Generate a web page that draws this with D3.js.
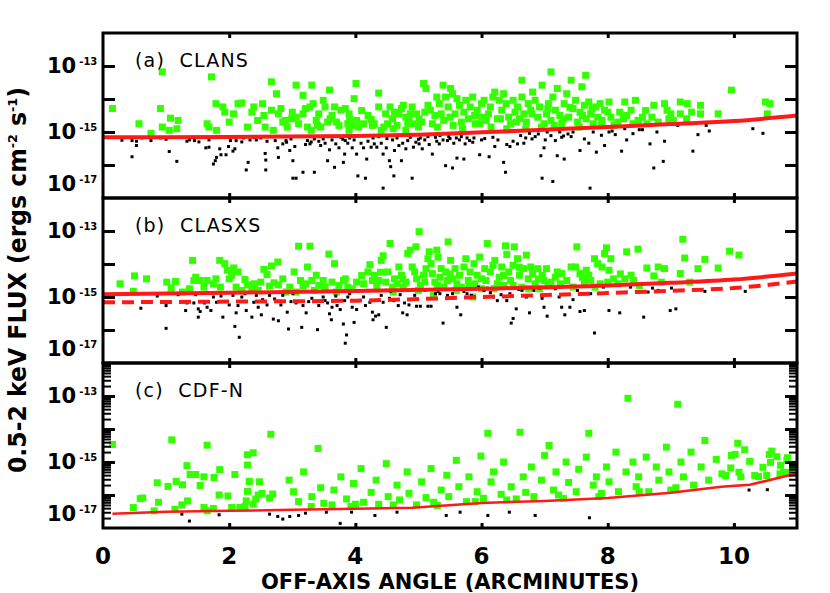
<!DOCTYPE html>
<html>
<head>
<meta charset="utf-8">
<script src="https://cdn.jsdelivr.net/npm/d3@7"></script>
<style>
  body { margin: 0; background: #fff; }
  text { font-family: "DejaVu Sans", sans-serif; fill: #000; }
</style>
</head>
<body>
<div id="chart"></div>
<script>
// [off-axis angle (arcmin), log10 0.5-2 keV flux (erg cm^-2 s^-1)]

// (a) CLANS
var clansDet = [
  [0.15,-14.29],[0.57,-14.75],[0.76,-15.04],[0.91,-14.29],[0.94,-13.18],[0.94,-14.85],[1.05,-14.95],[1.07,-14.58],
  [1.19,-14.65],[1.17,-14.90],[1.65,-14.75],[1.68,-14.85],[1.72,-13.33],[1.79,-14.14],[1.80,-14.95],[1.90,-14.24],
  [1.93,-14.40],[2.00,-14.70],[2.07,-14.45],[2.14,-14.14],[2.20,-14.12],[2.29,-14.85],[2.36,-14.40],[2.39,-14.24],
  [2.53,-14.14],[2.55,-14.50],[2.57,-14.85],[2.67,-13.48],[2.67,-14.34],[2.75,-13.84],[2.78,-14.45],[2.82,-14.29],
  [2.85,-14.70],[2.89,-14.65],[2.92,-14.85],[2.99,-14.60],[3.06,-13.58],[3.06,-14.55],[3.10,-14.75],[3.17,-13.89],
  [3.17,-14.45],[3.21,-14.29],[3.24,-14.85],[3.28,-14.24],[3.31,-13.58],[3.33,-14.14],[3.38,-14.65],[3.42,-14.45],
  [3.45,-14.85],[3.49,-14.04],[3.52,-14.24],[3.56,-14.70],[3.59,-13.73],[3.63,-14.50],[3.67,-14.24],[3.70,-14.70],
  [3.74,-14.80],[3.77,-14.34],[3.84,-14.29],[3.88,-14.75],[3.91,-14.60],[3.95,-14.80],[3.98,-13.99],[4.01,-13.53],
  [4.02,-14.65],[4.05,-14.85],[4.13,-14.75],[4.20,-14.50],[4.27,-14.80],[4.30,-14.75],[4.37,-13.82],[4.37,-14.24],
  [4.41,-14.95],[4.48,-14.45],[4.51,-14.75],[4.55,-14.24],[4.59,-14.60],[4.62,-14.40],[4.66,-14.80],[4.69,-14.45],
  [4.73,-14.29],[4.76,-14.19],[4.80,-14.55],[4.83,-14.75],[4.87,-14.45],[4.90,-14.24],[4.94,-14.75],[4.97,-14.45],
  [5.01,-14.60],[5.05,-14.70],[5.08,-13.53],[5.12,-13.68],[5.15,-14.19],[5.19,-14.34],[5.22,-14.75],[5.26,-14.50],
  [5.29,-13.94],[5.33,-14.14],[5.36,-14.45],[5.39,-13.58],[5.40,-14.65],[5.43,-13.94],[5.47,-14.24],[5.51,-13.68],
  [5.54,-13.84],[5.58,-14.45],[5.61,-13.99],[5.65,-14.19],[5.68,-14.70],[5.72,-14.40],[5.75,-14.04],[5.79,-14.60],
  [5.82,-14.24],[5.86,-13.94],[5.89,-14.50],[5.93,-14.34],[5.97,-14.75],[6.00,-14.14],[6.04,-14.04],[6.07,-14.65],
  [6.11,-14.45],[6.14,-14.24],[6.18,-13.94],[6.21,-13.79],[6.25,-14.60],[6.28,-14.04],[6.32,-14.34],[6.35,-13.84],
  [6.39,-14.14],[6.43,-14.55],[6.46,-14.75],[6.50,-14.04],[6.53,-14.40],[6.57,-14.24],[6.60,-14.60],[6.64,-13.43],
  [6.64,-13.94],[6.67,-14.45],[6.71,-14.70],[6.74,-14.14],[6.78,-14.34],[6.81,-13.79],[6.85,-14.04],[6.89,-14.55],
  [6.92,-14.24],[6.96,-13.58],[6.99,-14.75],[7.03,-14.45],[7.06,-14.14],[7.10,-13.18],[7.10,-14.65],[7.13,-13.94],
  [7.17,-14.34],[7.20,-13.68],[7.24,-14.50],[7.27,-14.75],[7.31,-14.14],[7.35,-13.84],[7.38,-14.55],[7.42,-13.43],
  [7.45,-14.29],[7.49,-14.04],[7.52,-14.70],[7.56,-14.40],[7.59,-13.63],[7.63,-14.19],[7.65,-13.28],[7.66,-14.60],
  [7.70,-14.09],[7.73,-14.45],[7.77,-14.75],[7.81,-14.24],[7.84,-14.55],[7.88,-14.14],[7.91,-14.65],[7.95,-14.34],
  [8.02,-14.09],[8.05,-14.55],[8.16,-14.70],[8.19,-14.40],[8.27,-14.09],[8.30,-14.50],[8.37,-14.34],[8.44,-14.04],
  [8.48,-14.65],[8.55,-14.55],[8.62,-14.75],[8.73,-14.19],[8.80,-14.70],[8.90,-14.14],[8.94,-14.34],[8.97,-14.60],
  [9.04,-14.65],[9.15,-14.45],[9.15,-14.09],[9.26,-14.14],[9.33,-14.40],[9.47,-14.19],[9.47,-14.45],[9.75,-14.45],
  [9.96,-13.73],[10.50,-14.09],[10.57,-14.14],[10.53,-14.45],
  [3.00,-14.40],[3.40,-14.80],[3.60,-14.60],[3.90,-14.45],[4.10,-14.35],[4.25,-14.62],[4.45,-14.85],[4.60,-14.90],
  [4.85,-14.62],[5.00,-14.85],[5.10,-14.40],[5.30,-14.85],[5.50,-14.55],[5.55,-14.80],[5.70,-14.90],[5.90,-14.75],
  [6.00,-14.55],[6.15,-14.85],[6.30,-14.60],[6.40,-14.90],[6.55,-14.70],[6.70,-14.90],[6.80,-14.45],[6.95,-14.85],
  [7.05,-14.30],[7.15,-14.80],[7.30,-14.60],[7.40,-14.25],[7.55,-14.85],[7.60,-14.50],[7.75,-14.30],[7.90,-14.80],
  [8.00,-14.40],[8.10,-14.80],[8.25,-14.60],[8.40,-14.75],[8.60,-14.35],[8.70,-14.55],[9.00,-14.45],[9.25,-14.60],
  [2.45,-14.65],[2.70,-14.95],[3.30,-14.95],[3.90,-14.95],[4.80,-14.95]
];
var clansUndet = [
  [0.46,-15.26],[0.53,-15.28],[0.46,-15.75],[0.53,-15.41],[0.62,-15.18],[0.76,-15.26],[0.91,-15.18],[1.05,-15.59],
  [1.17,-15.89],[1.33,-15.28],[1.37,-15.24],[1.52,-15.30],[1.63,-15.48],[1.68,-15.24],[1.68,-15.46],[1.75,-15.97],
  [1.78,-15.87],[1.80,-15.77],[1.85,-15.51],[1.87,-15.69],[1.95,-15.69],[1.99,-15.44],[2.02,-15.26],[2.06,-15.58],
  [2.09,-15.51],[2.11,-15.26],[2.23,-15.18],[2.27,-16.15],[2.30,-15.92],[2.33,-15.24],[2.39,-15.16],[2.43,-15.24],
  [2.50,-15.18],[2.57,-15.65],[2.58,-15.85],[2.58,-16.15],[2.60,-15.28],[2.73,-15.26],[2.77,-15.48],[2.78,-15.77],
  [2.85,-15.36],[2.91,-15.31],[2.96,-15.56],[2.98,-15.21],[3.01,-16.40],[3.01,-15.87],[3.06,-16.40],[3.04,-15.44],
  [3.17,-16.22],[3.21,-15.38],[3.24,-15.26],[3.28,-15.36],[3.35,-15.21],[3.35,-16.22],[3.42,-15.28],[3.45,-15.41],
  [3.49,-15.21],[3.52,-15.34],[3.56,-15.87],[3.59,-15.54],[3.63,-15.24],[3.67,-16.07],[3.69,-15.36],[3.74,-15.48],
  [3.77,-15.16],[3.81,-15.92],[3.83,-15.67],[3.84,-15.26],[3.88,-15.34],[3.91,-15.18],[3.95,-15.48],[3.98,-15.24],
  [4.02,-15.67],[4.04,-16.33],[4.09,-15.34],[4.13,-15.48],[4.16,-16.40],[4.18,-15.82],[4.20,-15.28],[4.25,-15.46],
  [4.28,-15.18],[4.30,-15.36],[4.34,-15.46],[4.37,-15.14],[4.41,-15.34],[4.44,-15.67],[4.44,-16.70],[4.49,-15.48],
  [4.54,-15.87],[4.56,-16.05],[4.59,-15.24],[4.61,-16.33],[4.62,-15.56],[4.66,-15.18],[4.69,-15.41],[4.73,-15.87],
  [4.75,-15.34],[4.80,-15.51],[4.83,-15.26],[4.87,-15.16],[4.90,-16.40],[4.92,-15.46],[4.96,-15.31],[5.01,-15.36],
  [5.03,-15.18],[5.06,-15.51],[5.10,-15.24],[5.15,-15.14],[5.17,-15.38],[5.22,-15.67],[5.27,-15.16],[5.29,-15.28],
  [5.33,-15.36],[5.34,-15.11],[5.39,-15.24],[5.43,-16.02],[5.46,-15.26],[5.48,-15.14],[5.54,-16.09],[5.56,-15.34],
  [5.60,-15.18],[5.61,-15.79],[5.65,-15.24],[5.68,-15.14],[5.72,-15.82],[5.74,-15.36],[5.77,-15.18],[5.81,-15.26],
  [5.86,-15.31],[5.88,-15.18],[5.97,-15.69],[6.00,-15.24],[6.12,-15.75],[6.18,-15.16],[6.21,-15.44],[6.26,-15.24],
  [6.35,-15.92],[6.38,-16.22],[6.40,-15.38],[6.45,-15.44],[6.50,-15.28],[6.57,-15.36],[6.62,-15.11],[6.67,-15.34],
  [6.76,-15.04],[6.80,-15.21],[6.85,-15.14],[6.90,-15.06],[6.94,-15.72],[6.96,-16.40],[6.99,-15.48],[7.01,-15.24],
  [7.04,-15.00],[7.10,-15.11],[7.13,-16.50],[7.17,-15.26],[7.20,-15.72],[7.24,-15.00],[7.27,-15.16],[7.31,-15.82],
  [7.37,-15.06],[7.42,-15.14],[7.45,-15.00],[7.56,-15.56],[7.63,-15.21],[7.70,-15.34],[7.72,-16.70],[7.77,-15.00],
  [7.82,-15.61],[7.95,-15.41],[8.02,-15.00],[8.07,-14.97],[8.12,-15.08],[8.22,-15.58],[8.27,-14.90],[8.30,-15.24],
  [8.50,-14.93],[8.55,-14.93],[8.67,-15.36],[8.73,-16.09],[8.78,-15.00],[8.88,-15.89],[8.90,-15.28],[9.11,-14.80],
  [9.35,-15.58],[9.43,-15.08],[9.56,-14.80],[9.61,-14.97],[10.30,-14.90],[10.46,-15.04],
  [0.30,-15.25],[1.00,-15.22],[1.45,-15.26],[2.20,-15.30],[2.90,-15.26],[3.30,-15.30],[3.80,-15.22],[4.50,-15.20],
  [5.00,-15.22],[5.50,-15.20],[6.05,-15.20],[6.70,-15.18],[7.30,-15.12],[7.90,-15.10],[8.40,-15.05]
];
var clansSens = [[0,-15.16],[2,-15.15],[4,-15.12],[5,-15.08],[6,-15.01],[7,-14.93],[8,-14.85],[9,-14.76],[10,-14.67],[11,-14.50]];

// (b) CLASXS
var clasxsDet = [
  [0.27,-14.60],[0.50,-14.36],[0.69,-14.45],[0.48,-14.83],[1.01,-14.55],[1.08,-14.73],[1.15,-14.53],[1.26,-14.85],
  [1.37,-14.75],[1.42,-13.89],[1.44,-14.50],[1.47,-14.40],[1.54,-14.50],[1.65,-14.50],[1.75,-14.60],[1.79,-14.45],
  [1.85,-13.89],[1.86,-14.70],[1.93,-13.99],[1.97,-14.19],[2.00,-14.45],[2.04,-14.34],[2.07,-14.12],[2.11,-14.70],
  [2.14,-14.24],[2.20,-14.80],[2.25,-14.47],[2.29,-14.63],[2.36,-14.75],[2.46,-14.80],[2.50,-14.55],[2.55,-14.16],
  [2.60,-14.32],[2.64,-14.67],[2.67,-14.06],[2.71,-14.57],[2.77,-13.94],[2.78,-14.63],[2.85,-14.45],[2.96,-14.70],
  [3.03,-14.24],[3.06,-14.85],[3.10,-13.46],[3.13,-14.50],[3.17,-14.67],[3.21,-14.60],[3.24,-14.09],[3.28,-13.46],
  [3.31,-14.50],[3.38,-14.34],[3.42,-14.65],[3.49,-14.50],[3.52,-14.70],[3.58,-13.70],[3.63,-14.55],[3.67,-13.99],
  [3.74,-14.65],[3.81,-14.50],[3.84,-14.45],[3.88,-14.70],[3.95,-14.75],[4.02,-14.55],[4.13,-14.60],[4.20,-14.24],
  [4.23,-14.02],[4.27,-14.50],[4.30,-14.34],[4.34,-14.70],[4.37,-14.50],[4.41,-13.89],[4.44,-13.75],[4.48,-14.55],
  [4.51,-14.24],[4.55,-13.38],[4.59,-14.70],[4.62,-14.45],[4.66,-14.60],[4.69,-14.09],[4.73,-14.34],[4.76,-14.70],
  [4.80,-14.55],[4.83,-13.68],[4.87,-13.58],[4.90,-14.09],[4.94,-14.24],[4.96,-13.48],[4.97,-14.45],[5.01,-13.02],
  [5.03,-14.65],[5.08,-14.34],[5.12,-14.14],[5.15,-13.84],[5.17,-13.63],[5.20,-13.99],[5.22,-14.29],[5.24,-14.95],
  [5.26,-14.55],[5.29,-13.58],[5.31,-13.79],[5.34,-14.40],[5.36,-14.14],[5.40,-14.70],[5.43,-14.24],[5.46,-14.50],
  [5.47,-13.33],[5.51,-13.89],[5.54,-14.45],[5.58,-14.14],[5.61,-14.60],[5.65,-14.34],[5.68,-14.70],[5.72,-14.09],
  [5.75,-13.84],[5.79,-14.50],[5.82,-14.24],[5.86,-15.00],[5.88,-13.99],[5.89,-14.60],[5.93,-14.34],[5.97,-13.79],
  [6.00,-14.75],[6.05,-14.14],[6.07,-14.50],[6.09,-13.38],[6.14,-14.24],[6.18,-14.04],[6.21,-13.89],[6.25,-14.60],
  [6.28,-14.40],[6.32,-14.09],[6.35,-14.65],[6.38,-13.45],[6.40,-13.71],[6.43,-14.24],[6.46,-14.50],[6.50,-14.04],
  [6.52,-13.48],[6.57,-13.84],[6.60,-14.34],[6.64,-14.70],[6.67,-14.14],[6.71,-13.73],[6.74,-14.45],[6.78,-14.09],
  [6.81,-14.29],[6.85,-14.60],[6.89,-14.14],[6.92,-14.75],[6.96,-14.34],[6.99,-14.50],[7.03,-14.14],[7.10,-14.55],
  [7.17,-14.40],[7.20,-14.24],[7.27,-14.29],[7.35,-14.50],[7.42,-14.09],[7.49,-14.09],[7.51,-13.48],[7.56,-14.29],
  [7.63,-14.55],[7.66,-14.19],[7.70,-14.34],[7.73,-14.50],[7.79,-13.84],[7.84,-13.99],[7.88,-14.60],[7.91,-14.09],
  [7.95,-13.68],[7.98,-13.51],[8.02,-14.19],[8.05,-13.84],[8.09,-14.45],[8.16,-14.60],[8.27,-14.45],[8.30,-13.63],
  [8.37,-14.34],[8.41,-14.50],[8.48,-13.55],[8.62,-14.12],[8.73,-14.36],[8.80,-14.09],[8.90,-14.14],[9.15,-14.29],
  [9.19,-13.25],[9.22,-13.82],[9.43,-14.14],[9.54,-13.86],[9.75,-14.12],[9.93,-13.61],[10.08,-13.73],
  [2.90,-14.85],[3.35,-14.80],[3.70,-14.85],[4.10,-14.35],[4.40,-14.25],[4.60,-14.85],[4.75,-14.45],[5.00,-14.80],
  [5.10,-14.55],[5.30,-14.65],[5.50,-14.30],[5.60,-14.80],[5.80,-14.70],[6.00,-14.45],[6.20,-14.75],[6.35,-14.35],
  [6.50,-14.65],[6.60,-14.10],[6.75,-14.75],[6.90,-14.45],[7.05,-14.65],[7.25,-14.60],[7.45,-14.70],[7.60,-14.40],
  [7.80,-14.70],[8.00,-14.55],[8.20,-14.30],[8.50,-14.65],[8.85,-14.55],[9.30,-14.55],[1.60,-14.70],[2.40,-14.60]
];
var clasxsUndet = [
  [0.60,-15.34],[0.86,-14.97],[1.00,-15.26],[1.00,-15.95],[1.19,-14.93],[1.31,-15.41],[1.33,-15.18],[1.44,-15.18],
  [1.47,-14.93],[1.51,-15.36],[1.51,-15.61],[1.54,-15.44],[1.61,-15.18],[1.65,-15.31],[1.71,-15.41],[1.75,-15.00],
  [1.80,-15.16],[1.87,-14.97],[1.90,-15.61],[2.00,-15.24],[2.06,-14.95],[2.09,-15.89],[2.11,-15.48],[2.14,-15.26],
  [2.16,-16.22],[2.20,-15.00],[2.25,-14.90],[2.27,-15.41],[2.36,-15.61],[2.39,-15.16],[2.43,-14.95],[2.46,-15.31],
  [2.51,-15.54],[2.53,-15.08],[2.60,-15.24],[2.64,-14.95],[2.70,-15.67],[2.72,-15.06],[2.78,-15.72],[2.82,-15.24],
  [2.85,-14.95],[2.92,-15.46],[2.94,-15.97],[2.98,-15.14],[3.01,-14.90],[3.06,-15.18],[3.15,-15.92],[3.17,-15.26],
  [3.22,-15.48],[3.26,-15.14],[3.31,-15.04],[3.40,-15.99],[3.42,-15.26],[3.49,-15.00],[3.52,-15.11],[3.56,-15.18],
  [3.59,-15.51],[3.62,-15.69],[3.63,-15.31],[3.69,-14.97],[3.71,-15.26],[3.76,-15.38],[3.81,-15.82],[3.83,-15.11],
  [3.84,-16.40],[3.86,-16.15],[3.88,-15.00],[3.91,-14.90],[3.95,-15.31],[3.98,-15.77],[4.02,-15.38],[4.05,-15.11],
  [4.13,-15.00],[4.16,-15.26],[4.18,-14.80],[4.23,-15.16],[4.27,-15.46],[4.28,-15.69],[4.32,-15.58],[4.37,-15.54],
  [4.41,-14.95],[4.44,-15.16],[4.48,-14.80],[4.49,-15.92],[4.54,-15.04],[4.56,-14.83],[4.61,-15.11],[4.64,-14.80],
  [4.68,-15.26],[4.71,-14.93],[4.75,-15.48],[4.78,-15.18],[4.82,-15.54],[4.85,-15.24],[4.89,-15.08],[4.94,-14.95],
  [4.97,-15.28],[5.03,-15.28],[5.10,-14.80],[5.15,-15.28],[5.20,-15.28],[5.27,-14.90],[5.31,-14.83],[5.34,-14.90],
  [5.39,-15.79],[5.46,-14.95],[5.54,-14.90],[5.61,-15.31],[5.67,-15.54],[5.72,-14.83],[5.77,-14.90],[5.84,-14.95],
  [5.89,-15.00],[5.95,-14.70],[6.04,-14.80],[6.09,-14.73],[6.14,-14.87],[6.19,-15.00],[6.25,-15.11],[6.31,-14.93],
  [6.40,-15.11],[6.45,-14.90],[6.47,-15.79],[6.50,-15.65],[6.55,-15.36],[6.59,-14.77],[6.64,-14.80],[6.71,-15.00],
  [6.76,-15.48],[6.83,-14.80],[6.92,-14.73],[6.96,-15.04],[6.99,-15.31],[7.04,-15.58],[7.10,-14.70],[7.17,-14.75],
  [7.23,-15.00],[7.27,-15.31],[7.32,-15.54],[7.40,-15.31],[7.45,-15.08],[7.52,-14.80],[7.56,-15.44],[7.63,-15.41],
  [7.73,-14.90],[7.79,-16.09],[7.93,-14.70],[8.02,-15.41],[8.19,-15.48],[8.36,-14.70],[8.57,-15.61],[8.64,-14.85],
  [8.71,-14.73],[8.80,-14.80],[8.99,-15.41],[9.01,-14.73],[9.08,-15.36],[9.47,-14.53],[9.54,-14.83],[10.18,-14.83],
  [10.30,-14.43]
];
var clasxsSens = [[0,-14.92],[2,-14.87],[4,-14.82],[6,-14.75],[8,-14.65],[9,-14.57],[10,-14.47],[11,-14.29]];
var clasxsSensDash = [[0,-15.16],[2,-15.14],[4,-15.11],[6,-15.00],[8,-14.88],[9,-14.81],[10,-14.73],[11,-14.53]];

// (c) CDF-N
var cdfnDet = [
  [0.15,-14.47],[1.09,-14.33],[1.65,-14.49],[2.66,-14.16],[1.33,-15.11],[2.29,-14.78],[2.38,-14.72],[2.29,-15.09],
  [1.38,-15.38],[1.47,-15.38],[1.60,-15.45],[1.85,-15.23],[1.76,-15.47],[1.54,-15.71],[2.09,-15.38],[1.16,-15.59],
  [1.26,-15.69],[0.86,-15.63],[1.03,-15.74],[2.32,-15.59],[2.48,-15.60],[1.84,-16.00],[1.98,-16.03],[2.29,-15.89],
  [2.46,-16.00],[2.52,-15.95],[2.42,-16.12],[2.69,-15.97],[2.64,-16.09],[0.59,-16.11],[0.63,-16.09],[0.88,-16.22],
  [1.34,-16.18],[1.25,-16.30],[0.48,-16.38],[0.81,-16.48],[1.14,-16.43],[1.60,-16.38],[1.65,-16.48],[1.75,-16.41],
  [2.17,-16.38],[2.25,-16.35],[2.38,-16.28],[2.27,-16.18],[2.04,-16.38],
  [2.95,-15.55],[3.02,-15.90],[3.10,-16.20],[3.18,-15.30],[3.31,-16.05],[3.41,-14.59],[3.45,-15.78],[3.50,-16.25],
  [3.63,-16.30],[3.66,-15.85],[3.77,-15.45],[3.86,-16.12],[3.93,-16.35],[3.97,-15.65],[4.09,-15.20],[4.13,-16.22],
  [4.25,-15.92],[4.33,-15.55],[4.37,-16.28],[4.49,-15.05],[4.52,-16.05],[4.66,-15.70],[4.70,-16.15],[4.82,-15.30],
  [4.85,-15.95],[4.97,-16.30],[5.05,-15.60],[5.12,-16.08],[5.20,-15.20],[5.24,-16.22],[5.36,-15.85],[5.45,-15.40],
  [5.48,-16.05],[5.60,-14.95],[5.64,-15.75],[5.76,-16.20],[5.80,-15.45],[5.93,-15.90],[5.99,-14.82],[6.03,-16.10],
  [6.10,-14.13],[6.15,-15.60],[6.19,-15.30],[6.31,-15.98],[6.35,-15.00],[6.47,-15.75],[6.55,-16.12],[6.61,-14.10],
  [6.66,-15.45],[6.70,-15.92],[6.79,-15.15],[6.83,-16.05],[6.95,-15.55],[7.00,-14.80],[7.07,-14.50],[7.14,-15.85],
  [7.18,-15.30],[7.22,-16.00],[7.34,-15.00],[7.38,-15.62],[7.50,-15.90],[7.54,-15.22],[7.66,-14.85],[7.70,-14.13],
  [7.77,-15.70],[7.82,-15.45],[7.86,-16.05],[7.98,-15.15],[8.02,-15.60],[8.13,-14.70],[8.17,-15.90],[8.29,-15.30],
  [8.32,-13.07],[8.40,-15.00],[8.45,-15.75],[8.49,-15.45],[8.61,-14.85],[8.65,-15.90],[8.77,-15.15],[8.81,-15.55],
  [8.93,-14.55],[8.97,-15.30],[9.08,-15.78],[9.11,-13.25],[9.16,-15.00],[9.20,-15.45],[9.32,-14.70],[9.36,-15.70],
  [9.48,-15.15],[9.54,-14.35],[9.60,-15.55],[9.72,-14.92],
  [3.30,-16.35],[4.00,-16.28],[4.60,-16.30],[5.30,-16.32],[5.90,-16.20],[6.40,-16.15],[7.30,-16.10],[7.90,-15.95],
  [8.50,-15.90],[9.00,-15.85],
  [10.06,-14.43],[10.17,-14.63],[9.96,-14.80],[10.02,-14.77],[10.25,-14.98],[10.56,-14.77],[10.60,-14.67],[10.68,-14.84],
  [10.58,-15.01],[10.84,-14.94],[10.85,-14.87],[10.46,-15.16],[10.74,-15.10],[10.94,-15.14],[9.95,-15.18],[9.81,-15.36],
  [9.87,-15.41],[10.08,-15.31],[10.11,-15.45],[10.33,-15.41],[10.39,-15.44],[10.52,-15.41],[10.73,-15.36],[10.79,-15.31],
  [10.84,-15.32]
];
var cdfnUndet = [
  [1.25,-16.58],[1.37,-16.79],[1.84,-16.60],[2.64,-16.58],[2.77,-16.65],[2.85,-16.73],[2.96,-16.65],[3.10,-16.62],
  [3.21,-16.55],[3.54,-16.52],[3.76,-16.86],[3.94,-16.52],[4.31,-16.62],[4.66,-16.52],[5.44,-16.62],[5.66,-16.52],
  [6.10,-16.62],[6.44,-16.52],[6.85,-16.62],[7.71,-16.69],[10.24,-15.85],[10.53,-15.84]
];
var cdfnSens = [[0.15,-16.57],[1,-16.51],[2,-16.48],[3,-16.45],[4,-16.42],[4.9,-16.39],[6,-16.24],[7,-16.18],
  [8,-16.09],[9,-15.93],[9.8,-15.75],[10.25,-15.69],[11,-15.35]];

var panelNames = ["(a)  CLANS", "(b)  CLASXS", "(c)  CDF-N"];
var xTickValues = [0, 2, 4, 6, 8, 10];
var yLabelExps = [-13, -15, -17];
var yDecades = [-16, -15, -14, -13];

var width = 830, height = 593,
    panelTop = 33, panelH = 165,
    green = "#33ff00", red = "#ff1a1a";

var panels = [
  {name: panelNames[0], det: clansDet, undet: clansUndet, lines: [{d: clansSens, w: 4}]},
  {name: panelNames[1], det: clasxsDet, undet: clasxsUndet, lines: [{d: clasxsSens, w: 4}, {d: clasxsSensDash, w: 4, dash: "12,7"}]},
  {name: panelNames[2], det: cdfnDet, undet: cdfnUndet, lines: [{d: cdfnSens, w: 2.5}], minor: true}
];

var svg = d3.select("#chart").append("svg")
  .attr("width", width)
  .attr("height", height)
  .style("background", "#fff");

var x = d3.scaleLinear().domain([0, 11]).range([103, 797]);

panels.forEach(function(p, i) {
  var top = panelTop + i * panelH;
  var y = d3.scaleLog().domain([1e-17, 1e-12]).range([top + panelH, top]);
  var fy = function(v) { return y(Math.pow(10, v)); };

  svg.append("clipPath").attr("id", "clip" + i)
    .append("rect")
    .attr("x", x(0)).attr("y", top)
    .attr("width", x(11) - x(0)).attr("height", panelH);

  var g = svg.append("g");
  var plot = g.append("g").attr("clip-path", "url(#clip" + i + ")");

  // detected sources
  plot.selectAll("rect.det").data(p.det).enter().append("rect")
    .attr("class", "det")
    .attr("x", function(d) { return x(d[0]) - 3.5; })
    .attr("y", function(d) { return fy(d[1]) - 3.5; })
    .attr("width", 7).attr("height", 7)
    .attr("fill", green);

  // the rest
  plot.selectAll("rect.undet").data(p.undet).enter().append("rect")
    .attr("class", "undet")
    .attr("x", function(d) { return x(d[0]) - 1.5; })
    .attr("y", function(d) { return fy(d[1]) - 1.5; })
    .attr("width", 3).attr("height", 3)
    .attr("fill", "#000");

  // sensitivity curves
  var line = d3.line()
    .x(function(d) { return x(d[0]); })
    .y(function(d) { return fy(d[1]); })
    .curve(i === 2 ? d3.curveLinear : d3.curveMonotoneX);

  p.lines.forEach(function(l) {
    plot.append("path")
      .attr("d", line(l.d))
      .attr("fill", "none")
      .attr("stroke", red)
      .attr("stroke-width", l.w)
      .attr("stroke-dasharray", l.dash || null);
  });

  // axes, ticks pointing inward
  var decVals = yDecades.map(function(e) { return Math.pow(10, e); });
  var axes = [
    d3.axisLeft(y).tickValues(decVals).tickSize(-12),
    d3.axisRight(y).tickValues(decVals).tickSize(-12)
  ];
  [x(0), x(11)].forEach(function(px, k) {
    g.append("g")
      .attr("transform", "translate(" + px + ",0)")
      .call(axes[k].tickFormat(""))
      .call(function(s) { s.select(".domain").remove(); s.selectAll("line").attr("stroke-width", 3); });
    if (p.minor) {
      var minorVals = [];
      for (var e = -17; e < -12; e++) for (var m = 2; m <= 9; m++) minorVals.push(m * Math.pow(10, e));
      var ax = (k === 0 ? d3.axisLeft(y) : d3.axisRight(y)).tickValues(minorVals).tickSize(-8).tickFormat("");
      g.append("g")
        .attr("transform", "translate(" + px + ",0)")
        .call(ax)
        .call(function(s) { s.select(".domain").remove(); s.selectAll("line").attr("stroke-width", 2); });
    }
  });

  g.append("g")
    .attr("transform", "translate(0," + (top + panelH) + ")")
    .call(d3.axisBottom(x).tickValues(xTickValues.slice(1)).tickSize(-5).tickFormat(""))
    .call(function(s) { s.select(".domain").remove(); s.selectAll("line").attr("stroke-width", 3); });
  g.append("g")
    .attr("transform", "translate(0," + top + ")")
    .call(d3.axisTop(x).tickValues(xTickValues.slice(1)).tickSize(-5).tickFormat(""))
    .call(function(s) { s.select(".domain").remove(); s.selectAll("line").attr("stroke-width", 3); });

  // frame
  g.append("rect")
    .attr("x", x(0)).attr("y", top)
    .attr("width", x(11) - x(0)).attr("height", panelH)
    .attr("fill", "none").attr("stroke", "#000").attr("stroke-width", 3);

  // y labels 10^n
  yLabelExps.forEach(function(e) {
    var base = e === -17 ? top + panelH - 7 : fy(e) + 7;
    var t = g.append("text")
      .attr("x", 47).attr("y", base)
      .attr("font-size", 21).attr("font-weight", "bold");
    t.append("tspan").text("10");
    t.append("tspan").attr("dx", 3).attr("dy", -8).attr("font-size", 10).text(e);
  });

  g.append("text")
    .attr("x", 135).attr("y", top + 34)
    .attr("font-size", 19)
    .attr("letter-spacing", 1.2)
    .attr("xml:space", "preserve")
    .style("white-space", "pre")
    .text(p.name);
});

// x tick labels
svg.append("g").selectAll("text").data(xTickValues).enter().append("text")
  .attr("x", function(d) { return x(d); })
  .attr("y", 564)
  .attr("text-anchor", "middle")
  .attr("font-size", 23).attr("font-weight", "bold")
  .text(function(d) { return d; });

svg.append("text")
  .attr("x", (x(0) + x(11)) / 2).attr("y", 589)
  .attr("text-anchor", "middle")
  .attr("font-size", 22).attr("font-weight", "bold")
  .attr("textLength", 378).attr("lengthAdjust", "spacingAndGlyphs")
  .text("OFF-AXIS ANGLE (ARCMINUTES)");

var yt = svg.append("text")
  .attr("transform", "translate(26,280) rotate(-90)")
  .attr("text-anchor", "middle")
  .attr("font-size", 24).attr("font-weight", "bold")
  .attr("textLength", 386).attr("lengthAdjust", "spacingAndGlyphs");
yt.append("tspan").text("0.5-2 keV FLUX (ergs cm");
yt.append("tspan").attr("dy", -9).attr("font-size", 13).text("-2");
yt.append("tspan").attr("dy", 9).text(" s");
yt.append("tspan").attr("dy", -9).attr("font-size", 13).text("-1");
yt.append("tspan").attr("dy", 9).text(")");
</script>
</body>
</html>
